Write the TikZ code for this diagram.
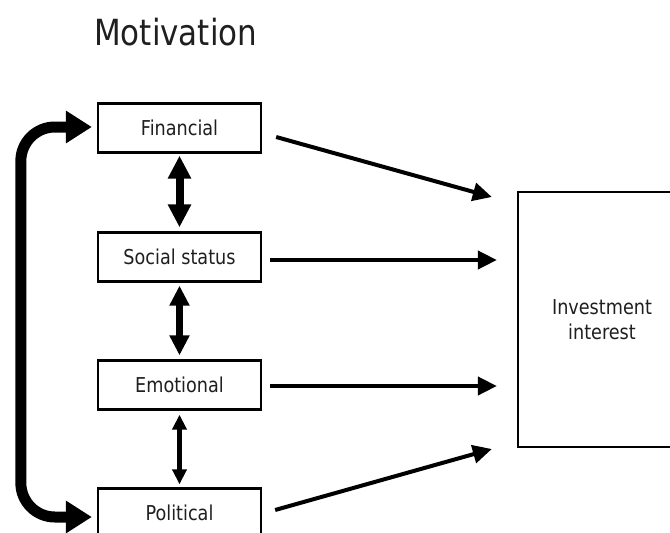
\documentclass[tikz,border=0pt]{standalone}
\usepackage{fontspec}
\setmainfont{DejaVu Sans}[FakeStretch=0.86]
\usetikzlibrary{arrows.meta}
\begin{document}
\begin{tikzpicture}[x=1pt,y=-1pt,
  every node/.style={text=black!88},
  box/.style={draw, line width=2.3pt, minimum width=163pt, minimum height=49pt,
    inner sep=0pt, font=\fontsize{20.5}{25}\selectfont},
  bigbox/.style={draw, line width=2.3pt, minimum width=168pt, minimum height=255pt,
    inner sep=0pt, align=center, font=\fontsize{20.5}{25}\selectfont},
  flow/.style={line width=4pt, -{Triangle[length=19pt,width=18pt]}},
  linkA/.style={line width=8pt, {Triangle[length=23pt,width=22pt]}-{Triangle[length=23pt,width=22pt]}},
  linkB/.style={line width=7pt, {Triangle[length=20pt,width=19pt]}-{Triangle[length=20pt,width=19pt]}},
  linkC/.style={line width=5pt, {Triangle[length=15pt,width=14pt]}-{Triangle[length=15pt,width=14pt]}},
  loop/.style={line width=11pt, rounded corners=34pt,
    {Triangle[length=26pt,width=31pt]}-{Triangle[length=26pt,width=31pt]}}
]
\clip (0,0) rectangle (670,533);
\fill[white] (0,0) rectangle (670,533);

% heading
\node[anchor=base west, inner sep=0pt, font=\fontsize{36}{40}\selectfont]
  (title) at (94,45) {Motivation};

% motivation factors
\node[box] (fin) at (179.5,128) {Financial};
\node[box] (soc) at (179.5,257) {Social status};
\node[box] (emo) at (179.5,385) {Emotional};
\node[box] (pol) at (179.5,513) {Political};

% outcome
\node[bigbox] (inv) at (602,319.5) {Investment\\interest};

% links between neighbouring factors
\draw[linkA] ([yshift=-2pt]fin.south) -- ([yshift=4pt]soc.north);
\draw[linkB] ([yshift=-3pt]soc.south) -- ([yshift=4pt]emo.north);
\draw[linkC] ([yshift=-4pt]emo.south) -- ([yshift=3pt]pol.north);

% link from financial round to political
\draw[loop] ([xshift=-5pt,yshift=1pt]fin.west) -- ++(-71,0) |- ([xshift=-5pt,yshift=-4pt]pol.west);

% factors feeding investment interest
\draw[flow] ([xshift=14pt,yshift=-9pt]fin.east) -- ([xshift=-25pt,yshift=122.5pt]inv.west);
\draw[flow] ([xshift=8pt,yshift=-3pt]soc.east) -- ([xshift=-20pt,yshift=59.5pt]inv.west);
\draw[flow] ([xshift=8pt,yshift=-1pt]emo.east) -- ([xshift=-20pt,yshift=-66.5pt]inv.west);
\draw[flow] ([xshift=13pt,yshift=3pt]pol.east) -- ([xshift=-25pt,yshift=-129.5pt]inv.west);
\end{tikzpicture}
\end{document}
